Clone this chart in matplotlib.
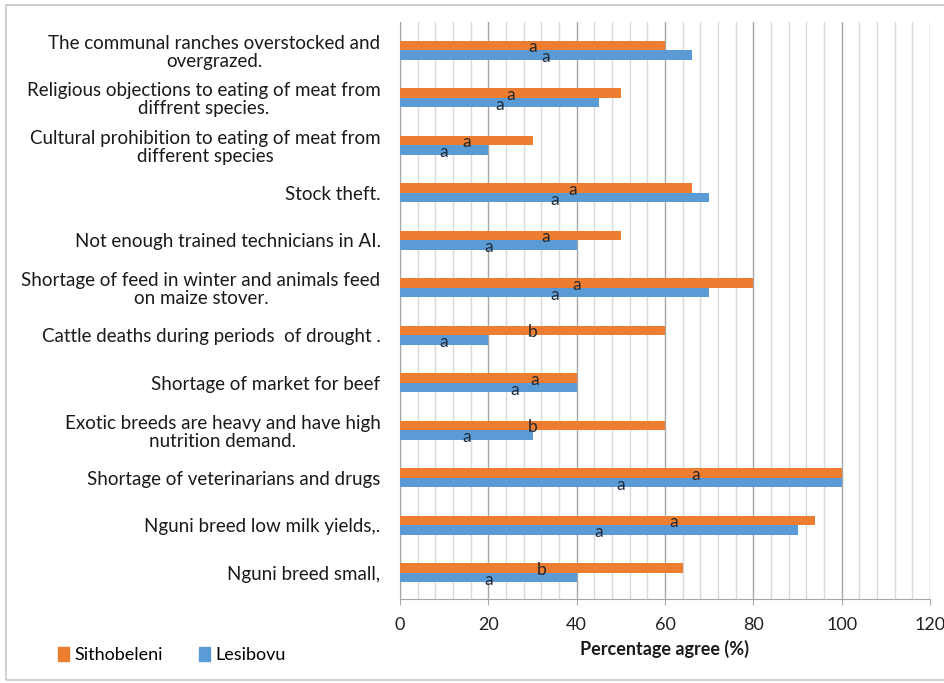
import matplotlib
matplotlib.use("Agg")
import matplotlib.pyplot as plt
from matplotlib.patches import Rectangle, Patch
import numpy as np

categories = [
    "The communal ranches overstocked and\novergrazed.",
    "Religious objections to eating of meat from\ndiffrent species.",
    "Cultural prohibition to eating of meat from\ndifferent species",
    "Stock theft.",
    "Not enough trained technicians in AI.",
    "Shortage of feed in winter and animals feed\non maize stover.",
    "Cattle deaths during periods  of drought .",
    "Shortage of market for beef",
    "Exotic breeds are heavy and have high\nnutrition demand.",
    "Shortage of veterinarians and drugs",
    "Nguni breed low milk yields,.",
    "Nguni breed small,",
]
sithobeleni = [60, 50, 30, 66, 50, 80, 60, 40, 60, 100, 94, 64]
lesibovu = [66, 45, 20, 70, 40, 70, 20, 40, 30, 100, 90, 40]
# significance letters and where they sit along the x axis
sitho_letters = ["a", "a", "a", "a", "a", "a", "b", "a", "b", "a", "a", "b"]
lesi_letters = ["a"] * 12
sitho_letter_x = [30, 25, 15, 39, 33, 40, 30, 30.5, 30, 67, 62, 32]
lesi_letter_x = [33, 22.5, 10, 35, 20, 35, 10, 26, 15, 50, 45, 20]
xticks = [0, 20, 40, 60, 80, 100, 120]

plt.rcParams['font.family'] = ['Lato', 'DejaVu Sans']

fig = plt.figure(figsize=(9.45, 6.83), dpi=100)
ax = fig.add_axes([400/945, 1-599/683, 530/945, (599-22)/683])

orange = "#ED7D31"
blue = "#5B9BD5"
y = np.arange(len(categories))
h = 0.2
ax.barh(y - h/2, sithobeleni, height=h, color=orange, zorder=3)
ax.barh(y + h/2, lesibovu, height=h, color=blue, zorder=3)

for i in range(len(categories)):
    ax.text(sitho_letter_x[i], y[i] - h/2 + 0.04, sitho_letters[i], ha='center', va='center',
            fontsize=12.5, color='#262626', zorder=4)
    ax.text(lesi_letter_x[i], y[i] + h/2 + 0.05, lesi_letters[i], ha='center', va='center',
            fontsize=12.5, color='#1f2a3a', zorder=4)

ax.set_xlim(0, 120)
ax.set_ylim(11.55, -0.59)
ax.set_xticks(xticks)
ax.set_xticks(np.arange(0, 121, 4), minor=True)
ax.grid(axis='x', which='major', color='#a6a6a6', linewidth=1.0, zorder=0)
ax.grid(axis='x', which='minor', color='#d9d9d9', linewidth=1.0, zorder=0)
ax.set_yticks(y)
ax.set_yticklabels(categories, fontsize=13.5, color='#1a1a1a')
plt.setp(ax.get_yticklabels(), multialignment='center', linespacing=1.08)
ax.tick_params(axis='y', length=0, pad=14)
ax.tick_params(axis='x', which='major', length=4, color='#a6a6a6', labelsize=13, pad=9, labelcolor='#222222')
ax.tick_params(axis='x', which='minor', length=0)
for s in ['top', 'right']:
    ax.spines[s].set_visible(False)
ax.spines['left'].set_color('#a6a6a6')
ax.spines['bottom'].set_color('#a6a6a6')
ax.set_xlabel("Percentage agree (%)", fontsize=13, fontweight='bold', labelpad=5, color='#1a1a1a')

handles = [Patch(color=orange, label="Sithobeleni"), Patch(color=blue, label="Lesibovu")]
fig.legend(handles=handles, loc='center left', bbox_to_anchor=(42/945, 1-655/683), ncol=2,
           frameon=False, fontsize=13, handlelength=0.6, handleheight=0.85, handletextpad=0.3,
           columnspacing=2.0)

fig.patches.append(Rectangle((6/945, 3/683), 1.2, 1-8/683, transform=fig.transFigure,
                             fill=False, edgecolor='#c8c8c8', linewidth=1.2))

fig.savefig("out.png", dpi=100)
